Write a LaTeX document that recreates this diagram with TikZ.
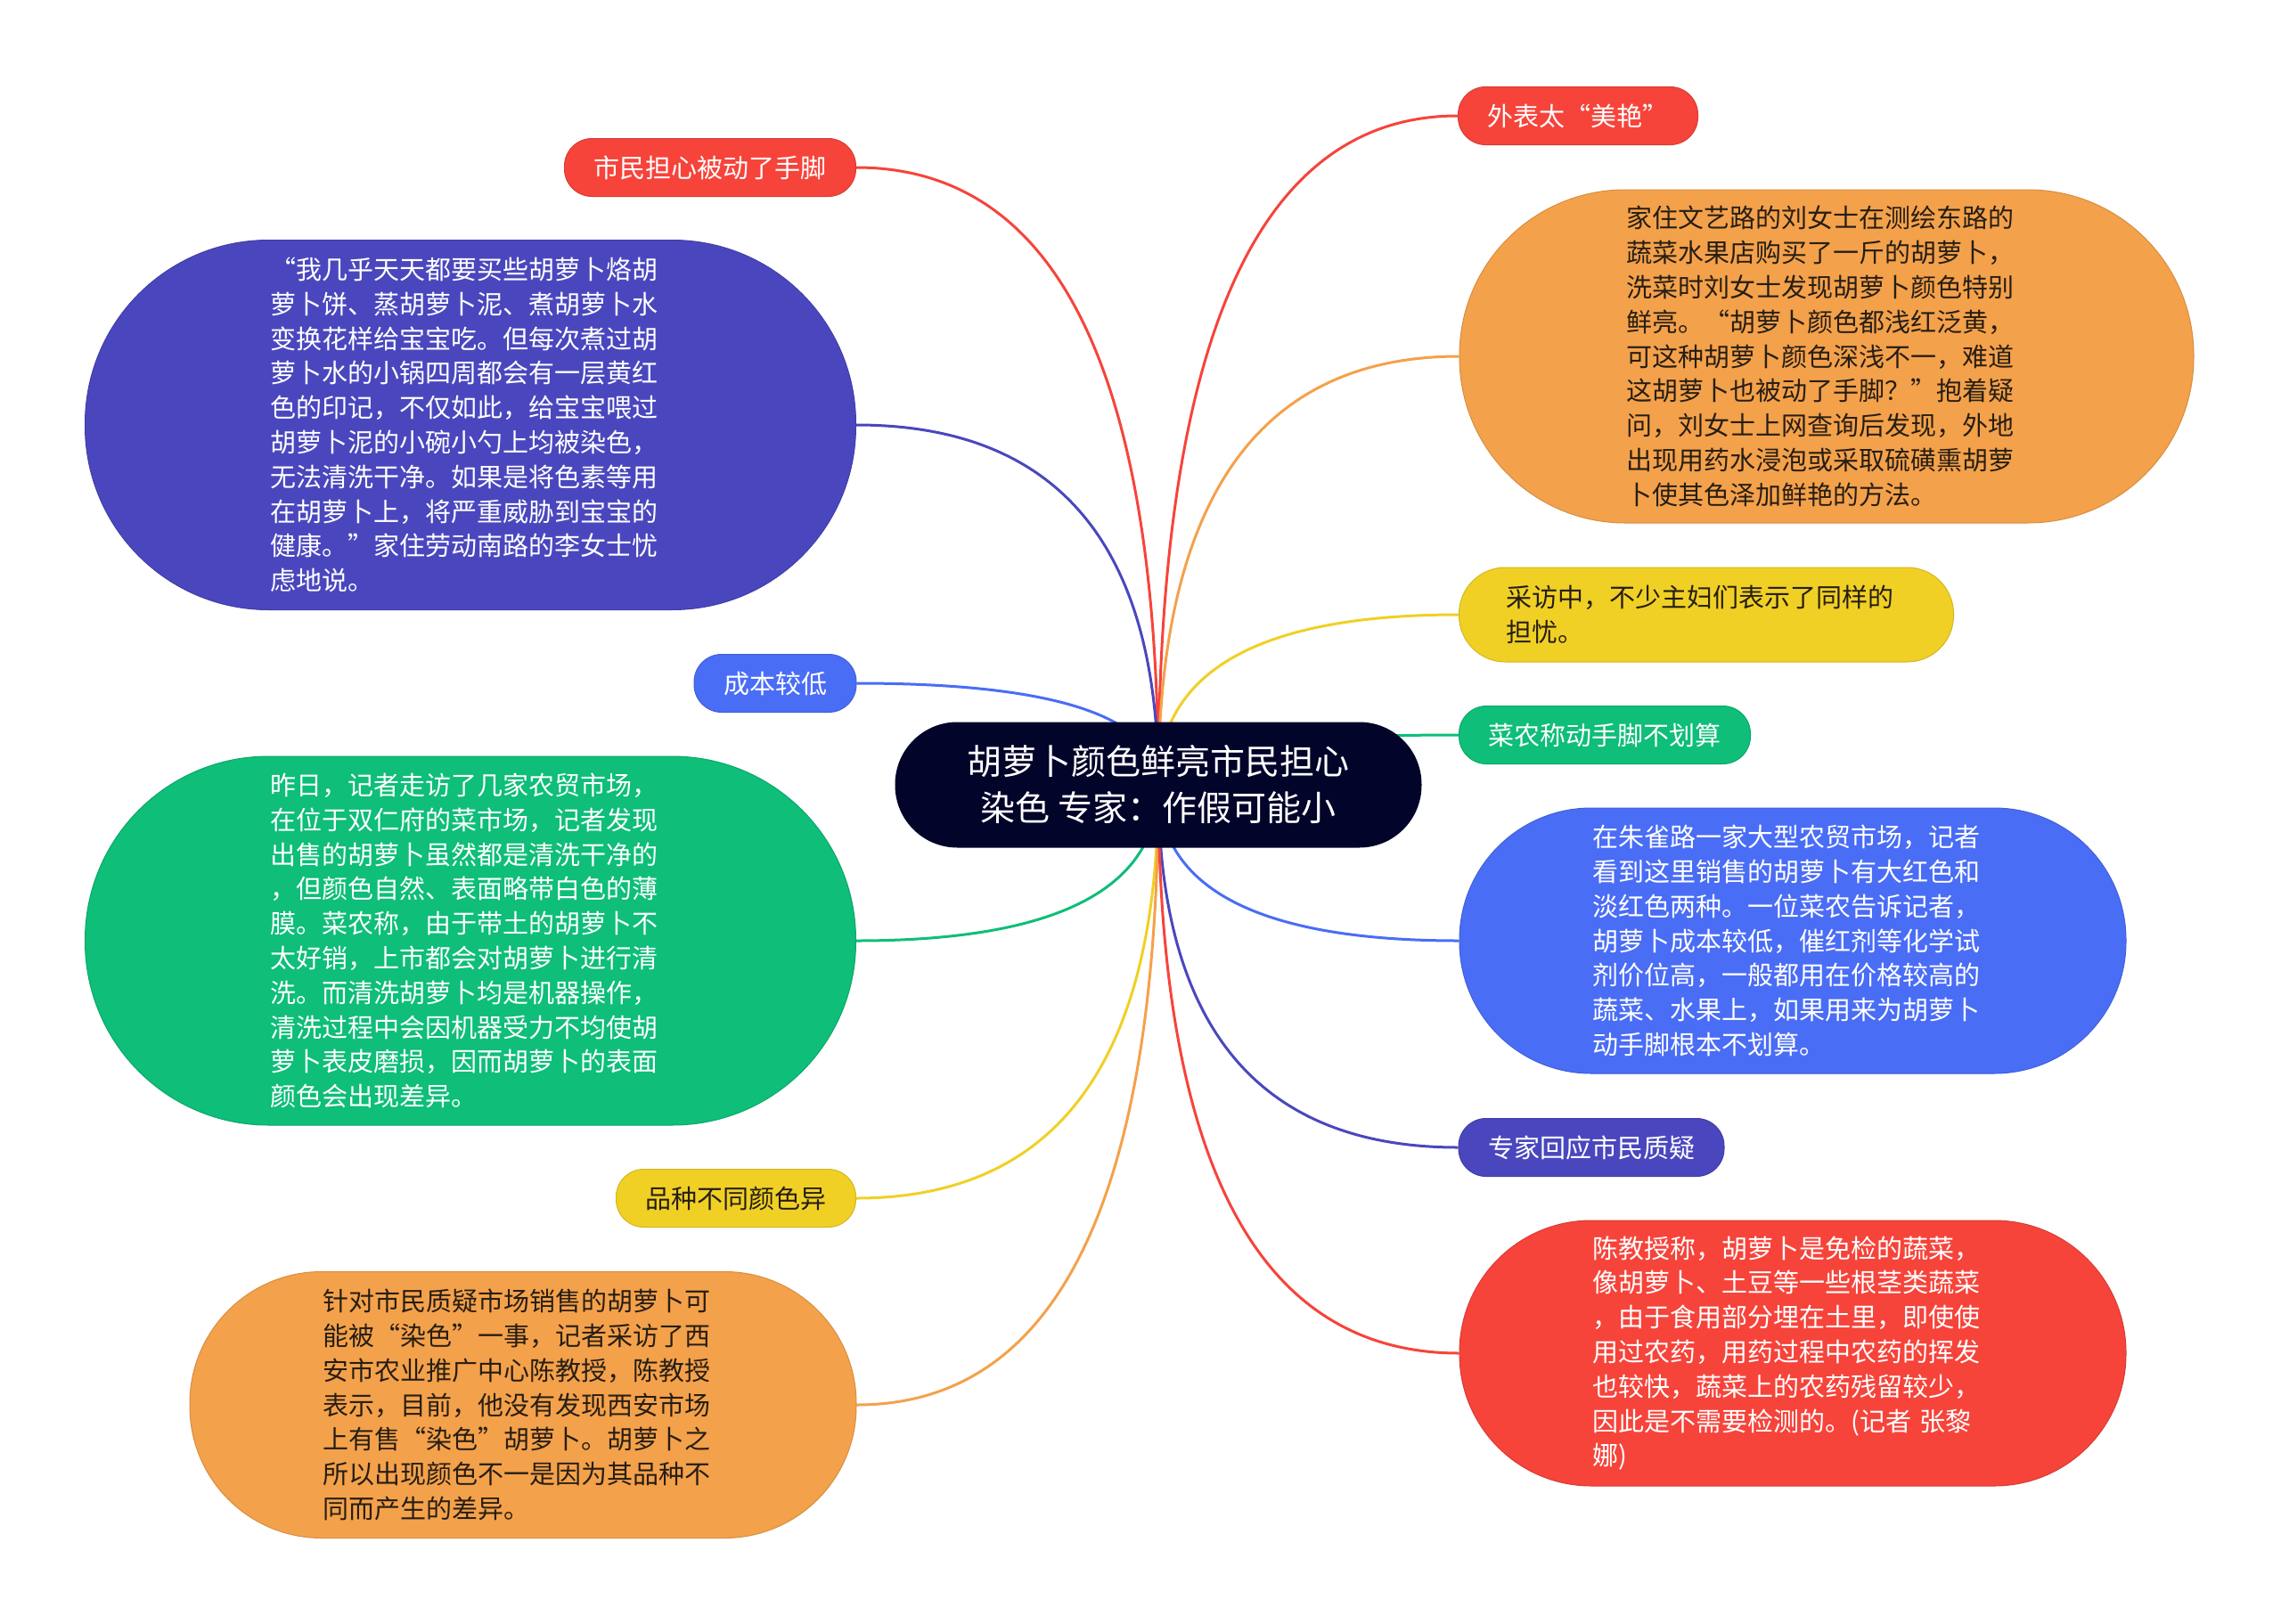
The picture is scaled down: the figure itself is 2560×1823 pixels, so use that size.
\documentclass[tikz,border=0pt]{standalone}
\usepackage{fontspec}
\setmainfont{Noto Sans CJK SC}
\usetikzlibrary{calc,backgrounds}
\definecolor{cNavy}{RGB}{3,4,42}
\definecolor{cRed}{RGB}{246,68,59}
\definecolor{cOrg}{RGB}{244,161,75}
\definecolor{cPur}{RGB}{74,71,190}
\definecolor{cYel}{RGB}{240,208,37}
\definecolor{cGrn}{RGB}{14,190,121}
\definecolor{cBlu}{RGB}{74,109,246}
\definecolor{ink}{RGB}{38,30,20}
\newcommand{\leaffont}{\fontsize{29}{38.8}\selectfont}
\newcommand{\hubfont}{\fontsize{39}{52}\selectfont}
\tikzset{
  leaf/.style={fill=#1,draw=#1!88!black,line width=1pt,text=white,
    font=\leaffont,align=left,inner sep=0pt},
  pill/.style={leaf=#1,rounded corners=31pt,minimum height=65pt,inner xsep=33pt},
  card/.style={leaf=#1,text width=449pt},
  dark/.style={text=ink},
  twig/.style={line width=3pt,to path={.. controls
    ($(\tikztostart)!2/3!(\tikztostart |- \tikztotarget)$) and
    ($(\tikztotarget)!2/3!(\tikztostart |- \tikztotarget)$) .. (\tikztotarget)}},
}

\begin{document}
\begin{tikzpicture}[x=1pt,y=-1pt]
  \useasboundingbox (0,0) rectangle (2560,1823);
  % centre
  \node[fill=cNavy,text=white,font=\hubfont,align=center,rounded corners=70pt,
        minimum width=591pt,minimum height=141pt] (hub) at (1300,881)
    {胡萝卜颜色鲜亮市民担心\\染色 专家：作假可能小};
  % left side
  \node[pill=cRed] (worry) at (797,188) {市民担心被动了手脚};
  \node[card=cPur,minimum width=865pt,minimum height=415pt,rounded corners=206pt]
    (li) at (528,477)
    {“我几乎天天都要买些胡萝卜烙胡\\萝卜饼、蒸胡萝卜泥、煮胡萝卜水\\变换花样给宝宝吃。但每次煮过胡\\萝卜水的小锅四周都会有一层黄红\\色的印记，不仅如此，给宝宝喂过\\胡萝卜泥的小碗小勺上均被染色，\\无法清洗干净。如果是将色素等用\\在胡萝卜上，将严重威胁到宝宝的\\健康。”家住劳动南路的李女士忧\\虑地说。};
  \node[pill=cBlu] (cost) at (870,767) {成本较低};
  \node[card=cGrn,minimum width=865pt,minimum height=414pt,rounded corners=206pt]
    (visit) at (528,1056)
    {昨日，记者走访了几家农贸市场，\\在位于双仁府的菜市场，记者发现\\出售的胡萝卜虽然都是清洗干净的\\，但颜色自然、表面略带白色的薄\\膜。菜农称，由于带土的胡萝卜不\\太好销，上市都会对胡萝卜进行清\\洗。而清洗胡萝卜均是机器操作，\\清洗过程中会因机器受力不均使胡\\萝卜表皮磨损，因而胡萝卜的表面\\颜色会出现差异。};
  \node[pill=cYel,dark] (variety) at (826,1345) {品种不同颜色异};
  \node[card=cOrg,dark,minimum width=748pt,minimum height=299pt,rounded corners=148pt]
    (reply) at (587,1577)
    {针对市民质疑市场销售的胡萝卜可\\能被“染色”一事，记者采访了西\\安市农业推广中心陈教授，陈教授\\表示，目前，他没有发现西安市场\\上有售“染色”胡萝卜。胡萝卜之\\所以出现颜色不一是因为其品种不\\同而产生的差异。};
  % right side
  \node[pill=cRed] (bright) at (1771,130) {外表太“美艳”};
  \node[card=cOrg,dark,minimum width=824pt,minimum height=374pt,rounded corners=186pt]
    (liu) at (2050,400)
    {家住文艺路的刘女士在测绘东路的\\蔬菜水果店购买了一斤的胡萝卜，\\洗菜时刘女士发现胡萝卜颜色特别\\鲜亮。“胡萝卜颜色都浅红泛黄，\\可这种胡萝卜颜色深浅不一，难道\\这胡萝卜也被动了手脚？”抱着疑\\问，刘女士上网查询后发现，外地\\出现用药水浸泡或采取硫磺熏胡萝\\卜使其色泽加鲜艳的方法。};
  \node[card=cYel,dark,minimum width=555pt,minimum height=106pt,rounded corners=52pt]
    (survey) at (1915,690) {采访中，不少主妇们表示了同样的\\担忧。};
  \node[pill=cGrn] (farmer) at (1801,825) {菜农称动手脚不划算};
  \node[card=cBlu,minimum width=748pt,minimum height=298pt,rounded corners=148pt]
    (zhuque) at (2012,1056)
    {在朱雀路一家大型农贸市场，记者\\看到这里销售的胡萝卜有大红色和\\淡红色两种。一位菜农告诉记者，\\胡萝卜成本较低，催红剂等化学试\\剂价位高，一般都用在价格较高的\\蔬菜、水果上，如果用来为胡萝卜\\动手脚根本不划算。};
  \node[pill=cPur] (expert) at (1786,1288) {专家回应市民质疑};
  \node[card=cRed,minimum width=748pt,minimum height=298pt,rounded corners=148pt]
    (chen) at (2012,1519)
    {陈教授称，胡萝卜是免检的蔬菜，\\像胡萝卜、土豆等一些根茎类蔬菜\\，由于食用部分埋在土里，即使使\\用过农药，用药过程中农药的挥发\\也较快，蔬菜上的农药残留较少，\\因此是不需要检测的。(记者 张黎\\娜)};
  % branches
  \begin{scope}[on background layer]
    \fill[white] (0,0) rectangle (2560,1823);
    \draw[twig,cRed] (hub.center) to (worry.east);
    \draw[twig,cPur] (hub.center) to (li.east);
    \draw[twig,cBlu] (hub.center) to (cost.east);
    \draw[twig,cGrn] (hub.center) to (visit.east);
    \draw[twig,cYel] (hub.center) to (variety.east);
    \draw[twig,cOrg] (hub.center) to (reply.east);
    \draw[twig,cRed] (hub.center) to (bright.west);
    \draw[twig,cOrg] (hub.center) to (liu.west);
    \draw[twig,cYel] (hub.center) to (survey.west);
    \draw[twig,cGrn] (hub.center) to (farmer.west);
    \draw[twig,cBlu] (hub.center) to (zhuque.west);
    \draw[twig,cPur] (hub.center) to (expert.west);
    \draw[twig,cRed] (hub.center) to (chen.west);
  \end{scope}
\end{tikzpicture}
\end{document}
